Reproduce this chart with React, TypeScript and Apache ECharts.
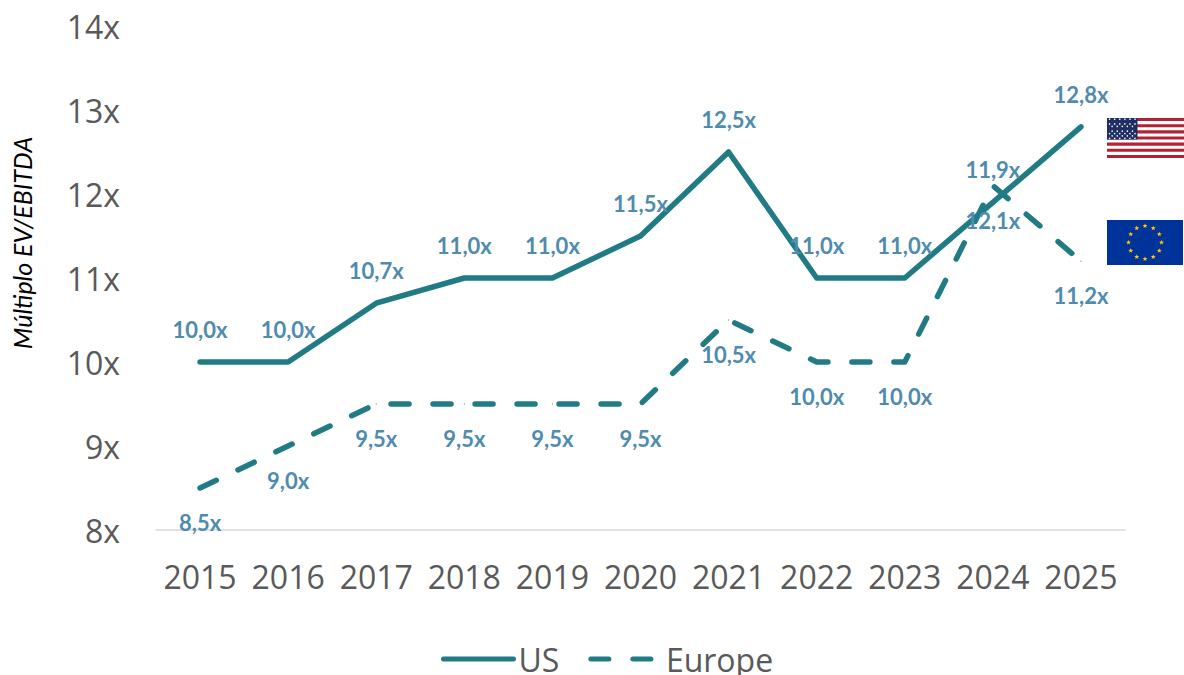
import React, { useEffect, useRef } from "react";
import * as echarts from "echarts";

const years = ["2015", "2016", "2017", "2018", "2019", "2020", "2021", "2022", "2023", "2024", "2025"];
const usValues = [10.0, 10.0, 10.7, 11.0, 11.0, 11.5, 12.5, 11.0, 11.0, 11.9, 12.8];
const europeValues = [8.5, 9.0, 9.5, 9.5, 9.5, 9.5, 10.5, 10.0, 10.0, 12.1, 11.2];

const TEAL = "#217b85";
const LABEL = "#4f8bad";
const GREY = "#595959";

function usFlag(): any[] {
  const x = 1107, y = 118, w = 77, h = 40;
  const out: any[] = [{ type: "rect", silent: true, shape: { x, y, width: w, height: h }, style: { fill: "#ffffff" } }];
  const sh = h / 13;
  for (let i = 0; i < 13; i += 2) {
    out.push({ type: "rect", silent: true, shape: { x, y: y + i * sh, width: w, height: sh }, style: { fill: "#b22234" } });
  }
  const cw = 30.5, ch = sh * 7;
  out.push({ type: "rect", silent: true, shape: { x, y, width: cw, height: ch }, style: { fill: "#1f2f66" } });
  for (let r = 0; r < 9; r++) {
    const n = r % 2 ? 5 : 6;
    for (let c = 0; c < n; c++) {
      const cx = x + cw * ((c + (r % 2 ? 1 : 0.5)) / 6);
      const cy = y + ch * ((r + 0.5) / 9);
      out.push({ type: "circle", silent: true, shape: { cx, cy, r: 0.75 }, style: { fill: "#ffffff" } });
    }
  }
  return out;
}

function starPoints(cx: number, cy: number, R: number): number[][] {
  const pts: number[][] = [];
  for (let i = 0; i < 10; i++) {
    const a = -Math.PI / 2 + (i * Math.PI) / 5;
    const rr = i % 2 ? R * 0.42 : R;
    pts.push([cx + rr * Math.cos(a), cy + rr * Math.sin(a)]);
  }
  return pts;
}

function euFlag(): any[] {
  const x = 1107, y = 220, w = 76, h = 45;
  const out: any[] = [{ type: "rect", silent: true, shape: { x, y, width: w, height: h }, style: { fill: "#003399" } }];
  const cx = x + w / 2, cy = y + h / 2;
  for (let i = 0; i < 12; i++) {
    const a = (i * Math.PI) / 6;
    out.push({
      type: "polygon",
      silent: true,
      shape: { points: starPoints(cx + 16.5 * Math.sin(a), cy - 16.5 * Math.cos(a), 2.6) },
      style: { fill: "#ffcc00" },
    });
  }
  return out;
}

const fmt = (p: any) => Number(p.value).toFixed(1).replace(".", ",") + "x";

export default function App() {
  const ref = useRef<HTMLDivElement>(null);
  useEffect(() => {
    document.body.style.margin = "0";
    const chart = echarts.init(ref.current!, undefined, { renderer: "svg" });
    const labelStyle = {
      show: true,
      formatter: fmt,
      color: LABEL,
      fontFamily: "Lato",
      fontWeight: "bold" as const,
      fontSize: 22,
    };
    chart.setOption({
      animation: false,
      backgroundColor: "#ffffff",
      textStyle: { fontFamily: "Open Sans" },
      grid: { left: 156, right: 59, top: 26, bottom: 145, containLabel: false },
      legend: {
        left: 441,
        top: 643,
        padding: 0,
        itemWidth: 70,
        itemHeight: 20,
        itemGap: 29,
        data: ["US", "Europe"],
        itemStyle: { opacity: 0 },
        lineStyle: { width: 5, cap: "round" },
        textStyle: { color: GREY, fontSize: 32, lineHeight: 32, fontFamily: "Open Sans" },
      },
      xAxis: {
        type: "category",
        data: years,
        axisLine: { lineStyle: { color: "#d9d9d9", width: 1.5 } },
        axisTick: { show: false },
        axisLabel: { color: GREY, fontSize: 32, fontFamily: "Open Sans", margin: 30, interval: 0 },
      },
      yAxis: {
        type: "value",
        min: 8,
        max: 14,
        interval: 1,
        axisLine: { show: false },
        axisTick: { show: false },
        splitLine: { show: false },
        axisLabel: { color: GREY, fontSize: 32, fontFamily: "Open Sans", margin: 36, formatter: "{value}x" },
        name: "Múltiplo EV/EBITDA",
        nameLocation: "middle",
        nameGap: 122,
        nameTextStyle: { color: "#000000", fontStyle: "italic", fontFamily: "Lato", fontSize: 25, padding: [0, 0, 0, 70] },
      },
      series: [
        {
          name: "US",
          type: "line",
          data: usValues,
          symbol: "circle",
          symbolSize: 1,
          showSymbol: true,
          showAllSymbol: true,
          lineStyle: { color: TEAL, width: 5.5, cap: "round", join: "round" },
          itemStyle: { color: TEAL },
          label: { ...labelStyle, position: "top", distance: 21 },
          labelLayout: { hideOverlap: false },
        },
        {
          name: "Europe",
          type: "line",
          data: europeValues,
          symbol: "circle",
          symbolSize: 1,
          showSymbol: true,
          showAllSymbol: true,
          lineStyle: { color: TEAL, width: 5.5, type: [18, 24], cap: "round", join: "round" },
          itemStyle: { color: TEAL },
          label: { ...labelStyle, position: "bottom", distance: 23 },
          labelLayout: { hideOverlap: false },
        },
      ],
      graphic: [...usFlag(), ...euFlag()],
    });
    return () => chart.dispose();
  }, []);
  return <div ref={ref} style={{ width: 1184, height: 675 }} />;
}
